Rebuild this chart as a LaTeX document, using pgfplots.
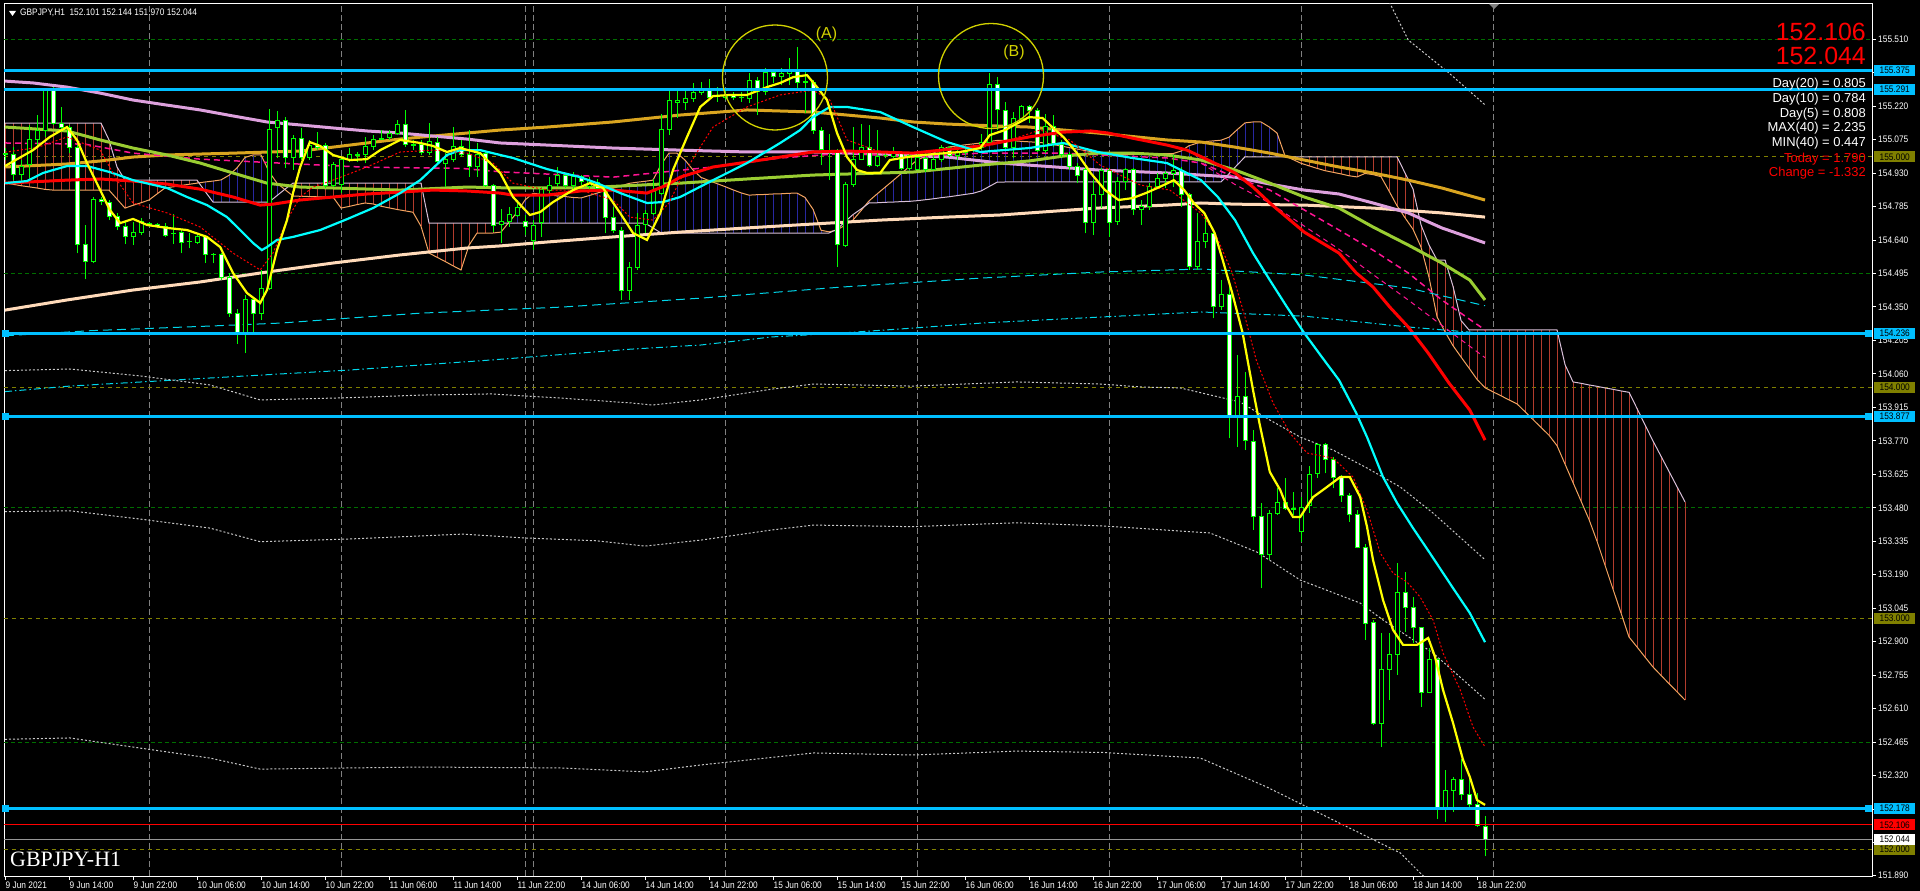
\documentclass[border=0pt]{standalone}
\usepackage{fontspec}
\setmainfont{Liberation Sans}
\newfontfamily\tickfont[FakeStretch=0.88]{Liberation Sans}
\newfontfamily\seriffont{Liberation Serif}
\usepackage{pgfplots}
\pgfplotsset{compat=1.18}
\usepackage{pgfplotstable}

\definecolor{cgreen}{RGB}{0,255,0}
\definecolor{lvl}{RGB}{0,191,255}
\definecolor{gridg}{RGB}{0,110,0}
\definecolor{olivel}{RGB}{128,128,0}
\definecolor{vgrid}{RGB}{128,128,128}
\definecolor{maYellow}{RGB}{255,255,0}
\definecolor{maCyan}{RGB}{0,255,255}
\definecolor{maRed}{RGB}{255,0,0}
\definecolor{maOlive}{RGB}{154,205,50}
\definecolor{maPlum}{RGB}{221,160,221}
\definecolor{maOrange}{RGB}{218,165,32}
\definecolor{maPeach}{RGB}{255,218,185}
\definecolor{maPink}{RGB}{255,20,147}
\definecolor{cyDash}{RGB}{0,215,235}
\definecolor{dotW}{RGB}{200,200,200}
\definecolor{cSpanA}{RGB}{244,164,96}
\definecolor{cSpanB}{RGB}{216,191,216}
\definecolor{hatchBear}{RGB}{178,60,45}
\definecolor{hatchBull}{RGB}{40,40,160}
\definecolor{circY}{RGB}{210,210,0}

% ---------- candles (bar index, open, high, low, close) ----------
\pgfplotstableread{
i O H L C
0 155.008 155.037 154.986 155.015
1 155.011 155.044 154.900 154.924
2 154.924 154.986 154.900 154.960
3 154.965 155.138 154.907 155.076
4 155.076 155.181 155.044 155.113
5 155.113 155.297 155.087 155.292
6 155.292 155.304 155.138 155.145
7 155.145 155.217 155.109 155.128
8 155.128 155.138 155.015 155.041
9 155.041 155.051 154.582 154.622
10 154.622 154.705 154.469 154.546
11 154.546 154.827 154.539 154.813
12 154.813 154.827 154.791 154.806
13 154.803 154.813 154.726 154.741
14 154.741 154.755 154.683 154.700
15 154.700 154.719 154.622 154.654
16 154.654 154.719 154.618 154.671
17 154.671 154.733 154.661 154.722
18 154.712 154.719 154.697 154.709
19 154.707 154.715 154.690 154.697
20 154.697 154.715 154.654 154.661
21 154.668 154.752 154.622 154.666
22 154.671 154.683 154.582 154.628
23 154.632 154.668 154.604 154.635
24 154.628 154.661 154.622 154.654
25 154.654 154.661 154.541 154.575
26 154.575 154.582 154.539 154.578
27 154.575 154.582 154.466 154.478
28 154.478 154.495 154.308 154.322
29 154.322 154.340 154.190 154.230
30 154.230 154.400 154.150 154.380
31 154.380 154.395 154.240 154.322
32 154.322 154.510 154.293 154.430
33 154.430 155.206 154.423 155.119
34 155.128 155.200 154.993 155.157
35 155.157 155.174 154.950 154.998
36 154.998 155.094 154.943 155.080
37 155.080 155.123 154.986 154.998
38 154.998 155.073 154.986 155.047
39 155.051 155.109 155.029 155.041
40 155.051 155.058 154.863 154.874
41 154.874 154.979 154.871 154.965
42 154.878 155.001 154.842 154.989
43 154.989 155.037 154.979 155.008
44 155.005 155.022 154.979 155.012
45 155.008 155.087 154.972 155.044
46 155.044 155.094 155.029 155.076
47 155.077 155.116 155.073 155.080
48 155.084 155.116 155.073 155.102
49 155.102 155.159 155.094 155.141
50 155.141 155.203 155.044 155.054
51 155.054 155.073 155.029 155.051
52 155.054 155.073 155.008 155.018
53 155.018 155.145 155.008 155.066
54 155.061 155.087 154.972 154.979
55 154.972 155.015 154.871 154.989
56 154.989 155.128 154.979 155.044
57 155.044 155.073 155.001 155.008
58 155.008 155.116 154.914 154.957
59 154.957 155.058 154.914 155.012
60 155.014 155.022 154.870 154.877
61 154.874 154.884 154.675 154.704
62 154.708 154.776 154.627 154.718
63 154.718 154.783 154.697 154.752
64 154.747 154.812 154.740 154.780
65 154.720 154.750 154.660 154.700
66 154.639 154.726 154.596 154.704
67 154.714 154.870 154.653 154.858
68 154.856 154.913 154.841 154.877
69 154.884 154.957 154.870 154.921
70 154.919 154.928 154.863 154.874
71 154.874 154.935 154.856 154.913
72 154.913 154.921 154.877 154.892
73 154.870 154.913 154.856 154.896
74 154.887 154.902 154.848 154.863
75 154.863 154.870 154.668 154.737
76 154.737 154.783 154.668 154.679
77 154.679 154.697 154.379 154.419
78 154.419 154.545 154.379 154.521
79 154.521 154.757 154.509 154.704
80 154.708 154.769 154.668 154.754
81 154.754 154.906 154.747 154.848
82 154.841 155.185 154.834 155.118
83 155.118 155.289 155.094 155.243
84 155.237 155.289 155.166 155.243
85 155.234 155.289 155.202 155.253
86 155.253 155.318 155.238 155.277
87 155.277 155.325 155.267 155.296
88 155.296 155.335 155.253 155.257
89 155.266 155.303 155.238 155.261
90 155.257 155.296 155.245 155.267
91 155.267 155.282 155.245 155.257
92 155.257 155.282 155.238 155.256
93 155.253 155.361 155.231 155.329
94 155.329 155.347 155.180 155.282
95 155.282 155.383 155.267 155.365
96 155.365 155.375 155.318 155.349
97 155.349 155.383 155.310 155.361
98 155.361 155.426 155.310 155.375
99 155.380 155.476 155.289 155.322
100 155.325 155.375 155.188 155.323
101 155.322 155.332 155.101 155.115
102 155.115 155.130 154.964 155.032
103 155.029 155.101 154.899 155.027
104 155.026 155.036 154.523 154.622
105 154.617 154.892 154.610 154.880
106 154.880 155.130 154.870 154.988
107 154.988 155.142 154.985 155.039
108 155.039 155.137 154.957 154.961
109 154.961 155.115 154.957 155.000
110 155.007 155.022 154.993 155.006
111 155.000 155.043 154.993 155.017
112 155.017 155.022 154.942 154.949
113 154.949 155.014 154.942 155.007
114 154.947 155.014 154.942 154.997
115 154.993 155.007 154.935 154.947
116 154.947 155.007 154.942 154.988
117 154.988 155.051 154.978 155.040
118 155.040 155.046 155.000 155.007
119 155.007 155.029 154.985 155.017
120 155.017 155.043 155.007 155.029
121 155.029 155.051 155.022 155.040
122 155.040 155.101 155.029 155.061
123 155.061 155.361 155.058 155.315
124 155.314 155.344 155.116 155.203
125 155.200 155.239 155.029 155.041
126 155.041 155.196 154.993 155.167
127 155.167 155.224 155.152 155.217
128 155.217 155.224 155.145 155.200
129 155.200 155.210 155.022 155.029
130 155.029 155.185 155.015 155.131
131 155.133 155.181 155.044 155.058
132 155.055 155.073 155.001 155.008
133 155.008 155.022 154.943 154.957
134 154.957 154.972 154.885 154.917
135 154.946 154.957 154.668 154.716
136 154.716 154.899 154.661 154.837
137 154.837 154.950 154.780 154.940
138 154.940 154.950 154.654 154.716
139 154.719 154.914 154.705 154.892
140 154.892 154.950 154.856 154.943
141 154.943 154.950 154.748 154.773
142 154.770 154.813 154.705 154.787
143 154.787 154.885 154.770 154.871
144 154.871 154.928 154.863 154.907
145 154.907 154.940 154.863 154.926
146 154.926 155.008 154.871 154.940
147 154.940 154.957 154.784 154.835
148 154.835 154.842 154.510 154.527
149 154.527 154.755 154.510 154.632
150 154.632 154.733 154.604 154.669
151 154.669 154.683 154.300 154.351
152 154.351 154.466 154.336 154.404
153 154.404 154.452 153.780 153.874
154 153.877 154.141 153.744 153.964
155 153.964 154.069 153.730 153.773
156 153.767 153.817 153.384 153.442
157 153.442 153.499 153.131 153.276
158 153.276 153.470 153.254 153.456
159 153.456 153.564 153.449 153.504
160 153.502 153.608 153.470 153.478
161 153.478 153.550 153.449 153.473
162 153.377 153.528 153.333 153.482
163 153.488 153.661 153.459 153.626
164 153.629 153.762 153.608 153.756
165 153.756 153.762 153.629 153.690
166 153.690 153.701 153.564 153.612
167 153.612 153.622 153.507 153.533
168 153.533 153.543 153.420 153.449
169 153.449 153.470 153.304 153.309
170 153.309 153.323 152.907 152.980
171 152.984 152.994 152.539 152.546
172 152.546 152.936 152.445 152.780
173 152.780 152.936 152.647 152.845
174 152.845 153.239 152.756 153.114
175 153.114 153.203 152.943 153.049
176 153.049 153.095 152.893 152.962
177 152.962 152.965 152.619 152.679
178 152.679 152.871 152.676 152.824
179 152.824 152.828 152.130 152.174
180 152.171 152.344 152.120 152.257
181 152.257 152.315 152.164 152.304
182 152.304 152.390 152.214 152.236
183 152.236 152.308 152.171 152.195
184 152.195 152.243 152.099 152.102
185 152.101 152.144 151.970 152.044
}\candles

% ---------- Ichimoku cloud: span A and span B at each bar ----------
\pgfplotstableread{
i A B
0 154.886 155.146
1 154.881 155.146
2 154.875 155.146
3 154.870 155.146
4 154.865 155.146
5 154.859 155.146
6 154.856 155.146
7 154.856 155.146
8 154.856 155.146
9 154.856 155.146
10 154.856 155.146
11 154.856 155.146
12 154.856 155.146
13 154.856 155.073
14 154.817 154.956
15 154.778 154.899
16 154.790 154.899
17 154.801 154.899
18 154.813 154.899
19 154.839 154.899
20 154.865 154.899
21 154.870 154.899
22 154.876 154.899
23 154.881 154.899
24 154.886 154.899
25 154.891 154.851
26 154.895 154.804
27 154.900 154.804
28 154.920 154.804
29 154.952 154.804
30 154.997 154.804
31 155.008 154.804
32 155.008 154.804
33 154.936 154.804
34 154.886 154.832
35 154.858 154.860
36 154.830 154.886
37 154.829 154.886
38 154.828 154.886
39 154.827 154.886
40 154.827 154.886
41 154.826 154.886
42 154.778 154.886
43 154.785 154.886
44 154.793 154.886
45 154.800 154.886
46 154.796 154.886
47 154.786 154.886
48 154.779 154.886
49 154.772 154.886
50 154.766 154.886
51 154.760 154.886
52 154.699 154.886
53 154.583 154.713
54 154.565 154.713
55 154.547 154.713
56 154.528 154.713
57 154.510 154.713
58 154.617 154.713
59 154.670 154.713
60 154.670 154.713
61 154.670 154.713
62 154.674 154.713
63 154.717 154.713
64 154.759 154.713
65 154.813 154.713
66 154.842 154.713
67 154.838 154.713
68 154.835 154.713
69 154.831 154.713
70 154.828 154.713
71 154.824 154.713
72 154.822 154.713
73 154.832 154.713
74 154.843 154.713
75 154.853 154.713
76 154.864 154.713
77 154.874 154.713
78 154.885 154.713
79 154.890 154.713
80 154.894 154.713
81 154.899 154.692
82 154.966 154.670
83 155.016 154.670
84 155.016 154.670
85 154.986 154.670
86 154.943 154.670
87 154.911 154.670
88 154.897 154.670
89 154.884 154.670
90 154.871 154.670
91 154.857 154.670
92 154.844 154.670
93 154.834 154.670
94 154.836 154.670
95 154.837 154.670
96 154.839 154.670
97 154.840 154.670
98 154.842 154.670
99 154.843 154.670
100 154.824 154.670
101 154.773 154.670
102 154.682 154.670
103 154.675 154.670
104 154.683 154.686
105 154.704 154.719
106 154.726 154.750
107 154.767 154.774
108 154.809 154.800
109 154.839 154.801
110 154.868 154.803
111 154.897 154.804
112 154.927 154.806
113 154.956 154.807
114 154.986 154.810
115 155.001 154.814
116 155.016 154.818
117 155.031 154.823
118 155.043 154.827
119 155.047 154.832
120 155.052 154.837
121 155.056 154.842
122 155.060 154.852
123 155.066 154.871
124 155.071 154.890
125 155.072 154.891
126 155.070 154.891
127 155.067 154.891
128 155.065 154.891
129 155.063 154.891
130 155.060 154.891
131 155.053 154.891
132 155.047 154.891
133 155.040 154.891
134 155.034 154.891
135 155.027 154.891
136 155.021 154.891
137 155.014 154.891
138 155.008 154.891
139 155.009 154.891
140 155.010 154.891
141 155.010 154.891
142 155.011 154.891
143 155.012 154.891
144 155.013 154.891
145 155.014 154.891
146 155.014 154.891
147 155.025 154.891
148 155.048 154.891
149 155.059 154.891
150 155.066 154.891
151 155.069 154.891
152 155.072 154.891
153 155.085 154.927
154 155.117 154.964
155 155.147 155.000
156 155.151 155.000
157 155.151 155.000
158 155.130 155.000
159 155.103 155.000
160 155.004 155.000
161 154.988 155.000
162 154.972 155.000
163 154.961 155.000
164 154.950 155.000
165 154.940 155.000
166 154.933 155.000
167 154.926 155.000
168 154.918 155.000
169 154.913 155.000
170 154.928 155.000
171 154.923 155.000
172 154.914 155.000
173 154.852 155.000
174 154.788 155.000
175 154.736 154.930
176 154.686 154.860
177 154.609 154.705
178 154.478 154.618
179 154.307 154.553
180 154.242 154.553
181 154.182 154.439
182 154.133 154.291
183 154.085 154.250
184 154.036 154.250
185 154.000 154.250
186 153.982 154.250
187 153.965 154.250
188 153.947 154.250
189 153.930 154.250
190 153.896 154.250
191 153.862 154.250
192 153.828 154.250
193 153.794 154.250
194 153.749 154.250
195 153.669 154.100
196 153.589 154.025
197 153.509 154.019
198 153.429 154.012
199 153.335 154.006
200 153.231 153.999
201 153.127 153.993
202 153.024 153.986
203 152.920 153.980
204 152.877 153.910
205 152.833 153.839
206 152.790 153.769
207 152.754 153.703
208 152.718 153.637
209 152.683 153.571
210 152.647 153.505
}\cloud

% ---------- moving averages ----------
\pgfplotstableread{
x y
0 154.960
3.5 155.029
5.6 155.086
7.75 155.129
9 155.073
10.25 154.973
11.9 154.856
13.1 154.770
14.4 154.713
16 154.731
17.75 154.705
20.25 154.692
22.75 154.683
25.25 154.653
26.9 154.609
28.5 154.497
30.25 154.410
31.9 154.367
32.75 154.423
34 154.596
35.25 154.726
36 154.843
36.9 154.956
38.1 155.064
39.4 155.047
41 155.008
43.1 154.986
45.25 154.990
46.9 155.029
49.4 155.073
51.9 155.060
53.5 155.047
55.25 155.021
56.9 155.038
59.4 155.016
61.9 154.930
63.5 154.826
65.6 154.748
66.9 154.761
68.5 154.804
71 154.856
73.1 154.886
74.75 154.865
76.9 154.756
78.5 154.670
80.25 154.640
81.9 154.756
83.5 154.943
85.25 155.086
86.9 155.216
88.5 155.263
90.6 155.268
92.75 155.268
95.25 155.302
96.9 155.320
98.5 155.345
100.25 155.354
101.5 155.302
102.75 155.246
104 155.103
105.25 154.999
106.5 154.943
107.75 154.930
109.4 154.930
110.6 154.986
112.75 154.999
114.75 155.008
119.4 155.021
121.9 155.038
123.1 155.094
125 155.116
128 155.172
129.7 155.168
131 155.125
132.3 155.086
134 155.016
135.7 154.930
137.5 154.856
139.2 154.813
140.9 154.821
142.6 154.843
144.3 154.869
146.1 154.899
147.4 154.856
148.6 154.800
149.9 154.757
151.2 154.670
152.1 154.566
153.4 154.410
154.7 154.237
156 153.990
156.8 153.847
158.1 153.635
159.4 153.557
160.25 153.483
161 153.440
161.9 153.440
163.5 153.526
165.25 153.570
166.9 153.613
168.1 153.613
169.4 153.526
170.25 153.397
171 153.254
172.25 153.080
173.5 152.951
174.75 152.886
176.5 152.886
177.9 152.916
178.75 152.834
179.75 152.691
181 152.548
182.25 152.388
183.1 152.314
184 152.214
185 152.193
}\maYellowT

\pgfplotstableread{
x y
0 155.020
4 155.040
7.75 155.086
11.9 155.029
14 154.899
16 154.800
20.25 154.757
24.4 154.696
28.5 154.583
31.9 154.510
33.5 154.583
35.25 154.726
36.9 154.826
38.5 154.869
41 154.899
45.25 154.956
49.4 155.021
53.5 155.029
57.75 155.016
61 154.973
63.5 154.886
67.75 154.856
71.9 154.856
76 154.813
78.1 154.739
81 154.726
83 154.800
84.4 154.900
86.5 155.020
88.5 155.129
92.75 155.216
96.9 155.268
101 155.289
103.1 155.246
105.25 155.073
109.4 155.021
113.5 155.016
117.75 155.016
121.9 155.038
125.6 155.073
129.4 155.116
133.1 155.073
136.9 154.964
141.9 154.878
145.6 154.856
149.5 154.756
151.25 154.670
153.4 154.497
155.1 154.293
156.4 154.120
158.5 153.934
160.6 153.804
162.75 153.717
166 153.695
168.5 153.613
170.25 153.470
171.9 153.284
173.5 153.197
175.25 153.158
176.9 153.093
178.5 152.994
179.75 152.851
181.9 152.691
183.5 152.530
185 152.444
}\maRedDotT

\pgfplotstableread{
x y
0 154.886
2.75 154.895
4.75 154.930
7.75 154.960
10.25 154.960
13.1 154.934
16 154.899
20.25 154.865
22.75 154.826
25.25 154.791
27.75 154.739
29.4 154.683
31 154.627
32.1 154.596
32.75 154.609
34 154.640
36 154.653
39.4 154.683
42.75 154.730
46 154.778
49.4 154.843
51.9 154.899
53.5 154.951
55.25 155.008
56.9 155.029
59.4 155.029
61.9 155.008
63.5 154.995
67.75 154.947
71.9 154.912
74 154.886
76.9 154.843
80.25 154.800
82.25 154.804
84.4 154.826
88.5 154.899
92.75 154.973
96.9 155.060
99.4 155.116
101 155.172
103.1 155.216
105.25 155.216
109.4 155.194
113.5 155.129
117.75 155.064
121.9 155.021
128 155.038
132.25 155.060
136.6 155.021
140.9 154.995
145.25 154.973
149.5 154.899
151.6 154.826
153.75 154.726
156 154.583
158.1 154.466
160.25 154.349
162.4 154.237
164.6 154.133
166.75 154.033
168.9 153.890
170.25 153.786
172.25 153.613
174 153.501
176 153.392
178.1 153.284
181 153.132
183.1 153.024
185 152.898
}\maCyanT

\pgfplotstableread{
x y
0 154.886
7.75 154.899
11.9 154.904
16 154.895
20.25 154.882
24.4 154.860
28.5 154.826
31.9 154.791
33.5 154.795
36.9 154.813
41 154.826
45.25 154.839
49.4 154.847
53.5 154.856
57.75 154.852
61.9 154.843
63.5 154.834
67.75 154.834
71.9 154.852
76 154.856
80.25 154.843
82.75 154.878
84.4 154.912
88.5 154.956
92.75 154.977
96.9 154.999
101 155.021
105.25 155.025
109.4 155.021
113.5 155.016
121.9 155.047
128 155.086
132.25 155.107
135.75 155.112
137.9 155.103
140.9 155.081
145.25 155.051
147.75 155.029
150.4 154.986
153.75 154.930
156 154.869
158.1 154.800
162.4 154.674
166.75 154.583
168.9 154.497
171 154.436
173.1 154.349
175.4 154.263
177.9 154.150
180.5 154.020
183.1 153.903
185 153.773
}\maRedT

\pgfplotstableread{
x y
0 155.129
7.75 155.112
11.9 155.073
16 155.038
20.25 155.008
24.4 154.973
28.5 154.930
32.75 154.886
36.9 154.869
41 154.865
49.4 154.856
57.75 154.869
63.5 154.865
71.9 154.865
84.4 154.886
92.75 154.904
101 154.921
113.5 154.934
121.9 154.964
128 154.982
132.25 155.003
136.6 155.016
140.9 155.016
145.25 155.008
149.5 154.986
153.75 154.943
158.1 154.886
162.4 154.826
166.75 154.778
171 154.696
175.4 154.618
179.6 154.540
183.1 154.466
185 154.380
}\maOliveT

\pgfplotstableread{
x y
0 155.328
3.5 155.320
7.75 155.302
11.9 155.276
16 155.246
20.25 155.224
24.4 155.203
28.5 155.177
32.75 155.151
36.9 155.138
41 155.125
45.25 155.112
49.4 155.103
53.5 155.090
57.75 155.077
61.9 155.060
67.75 155.051
76 155.038
84.4 155.029
92.75 155.021
101 155.021
109.4 155.012
117.75 154.999
124.4 154.973
128 154.964
136.6 154.943
145.25 154.930
149.5 154.921
153.75 154.912
158.1 154.882
162.4 154.856
166.75 154.839
171 154.800
175.4 154.757
179.6 154.692
185 154.627
}\maPlumT

\pgfplotstableread{
x y
0 154.956
7.75 154.969
11.9 154.982
16 154.999
20.25 155.008
28.5 155.016
36.9 155.025
41 155.042
45.25 155.060
49.4 155.077
53.5 155.090
57.75 155.103
61.9 155.116
67.75 155.129
76 155.151
84.4 155.181
92.75 155.203
101 155.194
105.25 155.181
109.4 155.168
113.5 155.151
117.75 155.142
124.4 155.133
128 155.129
136.6 155.103
145.25 155.073
149.5 155.064
153.75 155.042
158.1 155.016
162.4 154.986
166.75 154.956
171 154.930
175.4 154.899
179.6 154.865
185 154.813
}\maOrangeT

\pgfplotstableread{
x y
0 154.336
7.75 154.380
16 154.423
24.4 154.458
32.75 154.501
41 154.540
49.4 154.575
57.75 154.605
61.9 154.614
67.75 154.631
76 154.653
84.4 154.674
92.75 154.692
101 154.709
109.4 154.726
117.75 154.739
124.4 154.748
136.6 154.778
145.25 154.791
149.5 154.800
153.75 154.795
162.4 154.791
171 154.778
179.6 154.757
185 154.739
}\maPeachT

\pgfplotstableread{
x y
0 155.060
10 155.055
16 155.016
24.4 154.990
36 154.970
45 154.955
57 154.950
62 154.935
68 154.925
76 154.912
88.5 154.956
96.9 154.995
105.25 155.016
113.5 154.999
121.9 155.016
132 155.016
145.25 154.995
149.5 154.973
153.75 154.912
158.1 154.856
162.4 154.770
166.75 154.683
171 154.596
175.4 154.497
179.6 154.380
185 154.250
}\maPinkT

\pgfplotstableread{
x y
149.5 154.973
153.75 154.880
158.1 154.800
162.4 154.700
166.75 154.600
171 154.490
175.4 154.380
179.6 154.270
185 154.130
}\maPinkBT

\pgfplotstableread{
x y
0 154.225
10.75 154.247
25.6 154.267
34.5 154.280
43.25 154.302
52 154.323
69.5 154.349
87 154.388
104.6 154.436
122.1 154.475
136.9 154.501
149.5 154.514
162.4 154.488
175.4 154.432
185 154.355
}\cyDashAT

\pgfplotstableread{
x y
0 153.983
8.1 154.007
25.6 154.042
43.25 154.077
60.75 154.120
78.25 154.167
87 154.185
95.9 154.220
104.6 154.237
113.4 154.258
122.1 154.280
136.9 154.306
149.5 154.328
162.4 154.310
175.4 154.263
185 154.235
}\cyDashBT

% ---------- dotted bands ----------
\pgfplotstableread{
x y
172.6 155.700
175.4 155.506
180.5 155.363
185 155.225
}\bandAT
\pgfplotstableread{
x y
0 154.074
8.1 154.081
16.9 154.051
25.6 154.012
31.9 153.947
43.25 153.957
52 153.968
60.75 153.973
69.5 153.955
78.25 153.934
80.9 153.925
87 153.947
95.9 153.994
101.1 154.016
113.4 154.007
126.5 154.025
136.9 154.016
142.1 154.003
146.9 153.999
154.4 153.938
158.1 153.860
161.9 153.786
166 153.730
170.25 153.652
174.4 153.570
178.5 153.457
185 153.255
}\bandBT
\pgfplotstableread{
x y
0 153.463
8.1 153.467
16.9 153.431
25.6 153.392
31.9 153.333
43.25 153.345
52 153.358
57.25 153.366
65.1 153.349
73.9 153.337
80 153.314
87 153.340
95.9 153.384
101.1 153.405
113.4 153.398
126.5 153.415
137.25 153.401
150.6 153.371
156.5 153.288
161.9 153.167
169.4 153.067
172.25 152.994
178.5 152.851
185 152.650
}\bandCT
\pgfplotstableread{
x y
0 152.477
8.1 152.483
16.9 152.439
25.6 152.396
31.9 152.348
52 152.357
69.5 152.353
80 152.336
87 152.366
101.1 152.418
113.4 152.409
126.5 152.426
137.25 152.420
149.4 152.396
157.75 152.270
166 152.128
174.4 151.985
176.9 151.898
180 151.800
}\bandDT

\tikzset{pricebox/.style={inner sep=0pt, minimum width=41bp, minimum height=11bp, text=black,
  font=\tickfont\fontsize{9.5}{10}\selectfont, anchor=west, xshift=2bp}}

\begin{document}
\begin{tikzpicture}
\fill[black] (0,0) rectangle (1920bp,891bp);
\begin{axis}[
  at={(4bp,15bp)}, anchor=south west,
  width=1868bp, height=872bp, scale only axis,
  xmin=-0.125, xmax=233.375, ymin=151.885, ymax=155.662,
  clip mode=individual,
  axis line style={white, line width=1bp},
  tick align=outside, major tick length=4bp,
  tick style={white, line width=0.8bp},
  xtick pos=left, ytick pos=right, yticklabel pos=right,
  xtick={0,8,...,184},
  xticklabels={9 Jun 2021,9 Jun 14:00,9 Jun 22:00,10 Jun 06:00,10 Jun 14:00,10 Jun 22:00,11 Jun 06:00,11 Jun 14:00,11 Jun 22:00,14 Jun 06:00,14 Jun 14:00,14 Jun 22:00,15 Jun 06:00,15 Jun 14:00,15 Jun 22:00,16 Jun 06:00,16 Jun 14:00,16 Jun 22:00,17 Jun 06:00,17 Jun 14:00,17 Jun 22:00,18 Jun 06:00,18 Jun 14:00,18 Jun 22:00},
  xticklabel style={anchor=north west, inner sep=0pt, xshift=0.5bp, yshift=-2bp, text=white, font=\tickfont\fontsize{9.5}{10}\selectfont},
  ytick={155.510,155.365,155.220,155.075,154.930,154.785,154.640,154.495,154.350,154.205,154.060,153.915,153.770,153.625,153.480,153.335,153.190,153.045,152.900,152.755,152.610,152.465,152.320,152.175,152.030,151.888},
  yticklabels={155.510,155.365,155.220,155.075,154.930,154.785,154.640,154.495,154.350,154.205,154.060,153.915,153.770,153.625,153.480,153.335,153.190,153.045,152.900,152.755,152.610,152.465,152.320,152.175,152.030,151.890},
  yticklabel style={anchor=west, inner sep=0pt, xshift=2bp, text=white, font=\tickfont\fontsize{9.5}{10}\selectfont},
  extra x ticks={18,42,65,66,90,114,138,162,186},
  extra x tick labels={},
  extra x tick style={grid=major, major tick length=0pt, major grid style={vgrid, dash pattern=on 6bp off 3bp, line width=0.8bp}},
]
% horizontal grid
\addplot[gridg, dash pattern=on 4bp off 3bp, line width=0.8bp] coordinates {(-0.125,155.510) (233.375,155.510)};
\addplot[gridg, dash pattern=on 4bp off 3bp, line width=0.8bp] coordinates {(-0.125,154.495) (233.375,154.495)};
\addplot[gridg, dash pattern=on 4bp off 3bp, line width=0.8bp] coordinates {(-0.125,153.480) (233.375,153.480)};
\addplot[gridg, dash pattern=on 4bp off 3bp, line width=0.8bp] coordinates {(-0.125,152.465) (233.375,152.465)};
\addplot[olivel, dash pattern=on 4bp off 4bp, line width=0.8bp] coordinates {(-0.125,155.000) (233.375,155.000)};
\addplot[olivel, dash pattern=on 4bp off 4bp, line width=0.8bp] coordinates {(-0.125,154.000) (233.375,154.000)};
\addplot[olivel, dash pattern=on 4bp off 4bp, line width=0.8bp] coordinates {(-0.125,153.000) (233.375,153.000)};
\addplot[olivel, dash pattern=on 4bp off 4bp, line width=0.8bp] coordinates {(-0.125,152.000) (233.375,152.000)};

% ichimoku cloud: one hatch line per bar from span A to span B
\addplot[hatchBear, line width=1bp, quiver={u=0, v=\thisrow{B}-\thisrow{A}}, restrict expr to domain={\thisrow{B}-\thisrow{A}}{0.0001:10}] table[x=i, y=A] {\cloud};
\addplot[hatchBull, line width=1bp, quiver={u=0, v=\thisrow{B}-\thisrow{A}}, restrict expr to domain={\thisrow{A}-\thisrow{B}}{0.0001:10}] table[x=i, y=A] {\cloud};
\addplot[cSpanA, line width=1bp] table[x=i, y=A] {\cloud};
\addplot[cSpanB, line width=1bp] table[x=i, y=B] {\cloud};

% slow averages and bands
\addplot[cyDash, line width=1bp, dash pattern=on 9bp off 5bp] table {\cyDashAT};
\addplot[cyDash, line width=1bp, dash pattern=on 7bp off 3bp on 1.5bp off 3bp] table {\cyDashBT};
\addplot[dotW, line width=1bp, dash pattern=on 2bp off 2bp] table {\bandAT};
\addplot[dotW, line width=1bp, dash pattern=on 2bp off 2bp] table {\bandBT};
\addplot[dotW, line width=1bp, dash pattern=on 2bp off 2bp] table {\bandCT};
\addplot[dotW, line width=1bp, dash pattern=on 2bp off 2bp] table {\bandDT};
\addplot[maPeach, line width=3bp] table {\maPeachT};
\addplot[maOrange, line width=3bp] table {\maOrangeT};
\addplot[maPlum, line width=3bp] table {\maPlumT};
\addplot[maPink, line width=1.5bp, dash pattern=on 6bp off 4bp] table {\maPinkT};
\addplot[maPink, line width=1bp, dash pattern=on 5bp off 4bp] table {\maPinkBT};
\addplot[maOlive, line width=3bp] table {\maOliveT};

% candles
\addplot[cgreen, line width=1bp, quiver={u=0, v=\thisrow{H}-\thisrow{L}}] table[x=i, y=L] {\candles};
\addplot[cgreen, line width=5bp, quiver={u=0, v=\thisrow{C}-\thisrow{O}}] table[x=i, y=O] {\candles};
\addplot[white, line width=3bp, quiver={u=0, v=\thisrow{C}-\thisrow{O}}, restrict expr to domain={\thisrow{O}-\thisrow{C}}{0.0004:10}] table[x=i, y=O] {\candles};
\addplot[black, line width=3bp, quiver={u=0, v=\thisrow{C}-\thisrow{O}}, restrict expr to domain={\thisrow{C}-\thisrow{O}}{0.0004:10}] table[x=i, y=O] {\candles};
\addplot[only marks, mark=-, mark size=2.5bp, mark options={draw=cgreen, line width=1bp}] table[x=i, y=O] {\candles};
\addplot[only marks, mark=-, mark size=2.5bp, mark options={draw=cgreen, line width=1bp}] table[x=i, y=C] {\candles};

% fast averages
\addplot[maRed, line width=3bp] table {\maRedT};
\addplot[maCyan, line width=2.2bp] table {\maCyanT};
\addplot[maRed, line width=1bp, dash pattern=on 2bp off 2bp] table {\maRedDotT};
\addplot[maYellow, line width=2.2bp] table {\maYellowT};

% level lines
\addplot[lvl, line width=3bp] coordinates {(-0.125,155.375) (233.375,155.375)};
\addplot[lvl, line width=3bp] coordinates {(-0.125,155.291) (233.375,155.291)};
\addplot[lvl, line width=3bp] coordinates {(-0.125,154.236) (233.375,154.236)};
\addplot[lvl, line width=3bp] coordinates {(-0.125,153.877) (233.375,153.877)};
\addplot[lvl, line width=3bp] coordinates {(-0.125,152.178) (233.375,152.178)};
\addplot[only marks, mark=square*, mark size=3bp, mark options={fill=lvl, draw=lvl}] coordinates {(0.05,154.236) (232.9,154.236) (0.05,153.877) (232.9,153.877) (0.05,152.178) (232.9,152.178)};
\addplot[maRed, line width=1bp] coordinates {(-0.125,152.106) (233.375,152.106)};
\addplot[color={rgb,255:red,150;green,150;blue,150}, line width=1bp] coordinates {(-0.125,152.044) (233.375,152.044)};

% price boxes on the right scale
\node[pricebox, fill=lvl] at (axis cs:233.375,155.375) {155.375};
\node[pricebox, fill=lvl] at (axis cs:233.375,155.291) {155.291};
\node[pricebox, fill=olivel] at (axis cs:233.375,155.000) {155.000};
\node[pricebox, fill=lvl] at (axis cs:233.375,154.236) {154.236};
\node[pricebox, fill=olivel] at (axis cs:233.375,154.000) {154.000};
\node[pricebox, fill=lvl] at (axis cs:233.375,153.877) {153.877};
\node[pricebox, fill=olivel] at (axis cs:233.375,153.000) {153.000};
\node[pricebox, fill=lvl] at (axis cs:233.375,152.178) {152.178};
\node[pricebox, fill=red] at (axis cs:233.375,152.106) {152.106};
\node[pricebox, fill=olivel] at (axis cs:233.375,152.000) {152.000};
\node[pricebox, fill=white] at (axis cs:233.375,152.044) {152.044};
\end{axis}

% circles and labels
\draw[circY, line width=1.3bp] (775bp,813.5bp) circle [radius=52.5bp];
\draw[circY, line width=1.3bp] (991bp,815bp) circle [radius=52.5bp];
\node[text=circY, font=\fontsize{16}{18}\selectfont] at (826.5bp,857bp) {(A)};
\node[text=circY, font=\fontsize{16}{18}\selectfont] at (1014bp,839bp) {(B)};

% title
\fill[white] (9bp,880bp) -- (16bp,880bp) -- (12.5bp,875bp) -- cycle;
\node[anchor=west, inner sep=0pt, text=white, font=\tickfont\fontsize{9.5}{10}\selectfont] at (20bp,878bp) {GBPJPY,H1\ \ 152.101 152.144 151.970 152.044};
\fill[vgrid] (1489bp,887bp) -- (1499bp,887bp) -- (1494bp,882bp) -- cycle;

% info block
\node[anchor=base east, inner sep=0pt, text=red, font=\fontsize{25}{27}\selectfont] at (1866bp,850bp) {152.106};
\node[anchor=base east, inner sep=0pt, text=red, font=\fontsize{25}{27}\selectfont] at (1866bp,826bp) {152.044};
\begin{scope}[every node/.style={anchor=base east, inner sep=0pt, font=\fontsize{13}{14}\selectfont}]
\node[text=white] at (1866bp,803.7bp) {Day(20) = 0.805};
\node[text=white] at (1866bp,788.7bp) {Day(10) = 0.784};
\node[text=white] at (1866bp,773.7bp) {Day(5) = 0.808};
\node[text=white] at (1866bp,759.3bp) {MAX(40) = 2.235};
\node[text=white] at (1866bp,744.3bp) {MIN(40) = 0.447};
\node[text=red] at (1866bp,728.7bp) {Today = 1.790};
\node[text=red] at (1866bp,714.3bp) {Change = -1.332};
\end{scope}

\node[anchor=base west, inner sep=0pt, text=white, font=\seriffont\fontsize{22}{24}\selectfont] at (10bp,24.3bp) {GBPJPY-H1};
\pgfresetboundingbox
\path[use as bounding box] (0,0) rectangle (1920bp,891bp);
\end{tikzpicture}
\end{document}
